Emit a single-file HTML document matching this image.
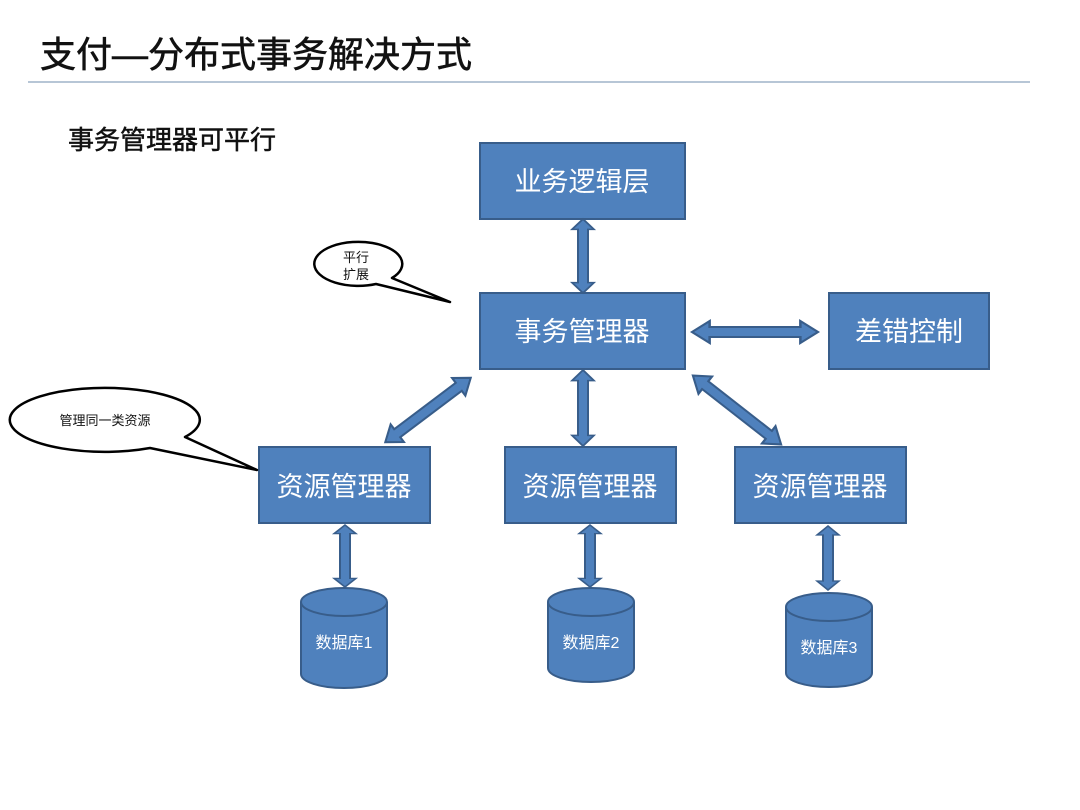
<!DOCTYPE html>
<html><head><meta charset="utf-8"><style>
body{margin:0;background:#fff}
svg{display:block}
text{font-family:"Liberation Sans","Noto Sans CJK SC",sans-serif}
</style></head><body>
<svg width="1080" height="810" viewBox="0 0 1080 810" xmlns="http://www.w3.org/2000/svg">
<defs>
<polygon id="a" points="-50,0 -36,-11 -36,-5 36,-5 36,-11 50,0 36,11 36,5 -36,5 -36,11"/>
</defs>
<text x="40" y="67" font-size="36" fill="#111" stroke="#111" stroke-width="0.6">支付—分布式事务解决方式</text>
<line x1="28" y1="82" x2="1030" y2="82" stroke="#9fb4c8" stroke-width="1.5"/>
<text x="68" y="149" font-size="26" fill="#111" stroke="#111" stroke-width="0.5">事务管理器可平行</text>

<g fill="#4f81bd" stroke="#385d8a" stroke-width="2">
<rect x="480" y="143" width="205" height="76"/>
<rect x="480" y="293" width="205" height="76"/>
<rect x="829" y="293" width="160" height="76"/>
<rect x="259" y="447" width="171" height="76"/>
<rect x="505" y="447" width="171" height="76"/>
<rect x="735" y="447" width="171" height="76"/>
<path d="M301,602 v72 a43,14 0 0 0 86,0 v-72 a43,14 0 0 0 -86,0 a43,14 0 0 0 86,0"/>
<path d="M548,602 v66 a43,14 0 0 0 86,0 v-66 a43,14 0 0 0 -86,0 a43,14 0 0 0 86,0"/>
<path d="M786,607 v66 a43,14 0 0 0 86,0 v-66 a43,14 0 0 0 -86,0 a43,14 0 0 0 86,0"/>
<use href="#a" transform="translate(583,256) rotate(90) scale(0.74,1)"/>
<use href="#a" transform="translate(755,332) scale(1.26,1)"/>
<use href="#a" transform="translate(583,408) rotate(90) scale(0.76,1)"/>
<use href="#a" transform="translate(428,410) rotate(-37) scale(1.07,1)"/>
<use href="#a" transform="translate(737,410) rotate(38) scale(1.12,1)"/>
<use href="#a" transform="translate(345,556) rotate(90) scale(0.62,1)"/>
<use href="#a" transform="translate(590,556) rotate(90) scale(0.62,1)"/>
<use href="#a" transform="translate(828,558) rotate(90) scale(0.64,1)"/>
</g>

<g fill="#fff" font-size="27" text-anchor="middle">
<text x="582" y="191">业务逻辑层</text>
<text x="582" y="341">事务管理器</text>
<text x="909" y="341">差错控制</text>
<text x="344" y="496">资源管理器</text>
<text x="590" y="496">资源管理器</text>
<text x="820" y="496">资源管理器</text>
</g>
<g fill="#fff" font-size="16" text-anchor="middle">
<text x="344" y="648">数据库1</text>
<text x="591" y="648">数据库2</text>
<text x="829" y="653">数据库3</text>
</g>

<g fill="#fff" stroke="#000" stroke-width="2.5" stroke-linejoin="round">
<path d="M392,278 L450,302 L376,284 A44,22 0 1 1 392,278 Z"/>
<path d="M185,437 L257,470 L150,448 A95,32 0 1 1 185,437 Z"/>
</g>
<g fill="#111" font-size="13" text-anchor="middle">
<text x="356" y="262">平行</text>
<text x="356" y="279">扩展</text>
<text x="105" y="425">管理同一类资源</text>
</g>
</svg>
</body></html>
